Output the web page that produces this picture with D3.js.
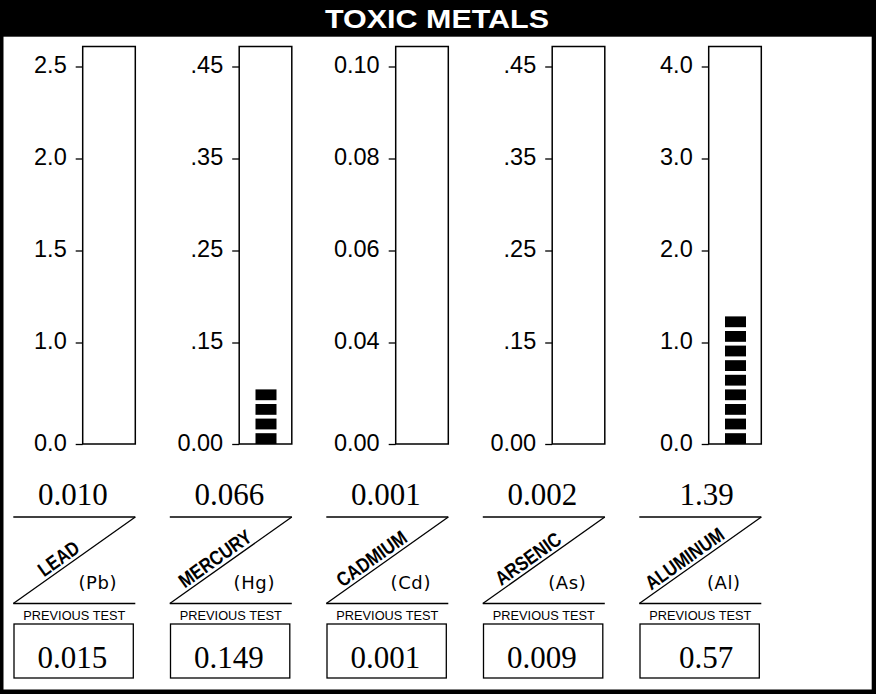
<!DOCTYPE html>
<html>
<head>
<meta charset="utf-8">
<script src="https://cdn.jsdelivr.net/npm/d3@7"></script>
<style>
  html, body { margin: 0; padding: 0; background: #fff; }
  svg { display: block; }
</style>
</head>
<body>
<svg id="chart" width="876" height="694"></svg>
<script>
// ---- data ----
const title = "TOXIC METALS";
const metals = ["LEAD", "MERCURY", "CADMIUM", "ARSENIC", "ALUMINUM"];
const symbols = ["(Pb)", "(Hg)", "(Cd)", "(As)", "(Al)"];
const results = [0.010, 0.066, 0.001, 0.002, 1.39];
const resultLabels = ["0.010", "0.066", "0.001", "0.002", "1.39"];
const previous = ["0.015", "0.149", "0.001", "0.009", "0.57"];
const tickValues = [
  [0, 1.0, 1.5, 2.0, 2.5],
  [0, 0.15, 0.25, 0.35, 0.45],
  [0, 0.04, 0.06, 0.08, 0.10],
  [0, 0.15, 0.25, 0.35, 0.45],
  [0, 1.0, 2.0, 3.0, 4.0]
];
const tickLabels = [
  ["0.0", "1.0", "1.5", "2.0", "2.5"],
  ["0.00", ".15", ".25", ".35", ".45"],
  ["0.00", "0.04", "0.06", "0.08", "0.10"],
  ["0.00", ".15", ".25", ".35", ".45"],
  ["0.0", "1.0", "2.0", "3.0", "4.0"]
];
const previousLabel = "PREVIOUS TEST";

// ---- layout ----
const svg = d3.select("#chart");
const W = 876, H = 694;
const boxW = 52.6, boxTop = 46.5, boxBottom = 444;
const tickRange = [444, 342.5, 250.5, 158.5, 66.5];
const pitch = 14.6, blockH = 10.8, blockW = 21;

const xCol = d3.scalePoint().domain(metals).range([82.7, 708.7]);

// frame
svg.append("rect").attr("x", 0).attr("y", 0).attr("width", W).attr("height", H).attr("fill", "#000");
svg.append("rect").attr("x", 3.5).attr("y", 36.7).attr("width", 868.2).attr("height", 652.8).attr("fill", "#fff");

svg.append("text")
  .attr("x", 437).attr("y", 27.5)
  .attr("text-anchor", "middle")
  .attr("fill", "#fff")
  .attr("font-family", "'Liberation Sans', Arial, sans-serif")
  .attr("font-weight", "bold")
  .attr("font-size", 26.5)
  .attr("textLength", 224)
  .attr("lengthAdjust", "spacingAndGlyphs")
  .text(title);

const angle = Math.atan2(86.5, 122) * 180 / Math.PI;

metals.forEach((m, i) => {
  const x0 = xCol(m);
  const xr = x0 + boxW;
  const g = svg.append("g");

  const y = d3.scaleLinear().domain(tickValues[i]).range(tickRange);
  const yLow = d3.scalePow().exponent(0.7).domain([0, tickValues[i][1]]).range([tickRange[0], tickRange[1]]);
  const yVal = v => v < tickValues[i][1] ? yLow(v) : y(v);

  // box
  g.append("rect")
    .attr("x", x0).attr("y", boxTop)
    .attr("width", boxW).attr("height", boxBottom - boxTop)
    .attr("fill", "#fff").attr("stroke", "#000").attr("stroke-width", 1.5);

  // axis ticks
  const axis = d3.axisLeft(y).tickValues(tickValues[i])
    .tickFormat((d, k) => tickLabels[i][k])
    .tickSize(7).tickPadding(9);
  const ag = g.append("g").attr("transform", `translate(${x0},0)`).call(axis);
  ag.select(".domain").remove();
  ag.selectAll(".tick line").attr("stroke", "#000").attr("stroke-width", 1.3);
  ag.selectAll(".tick text")
    .attr("font-family", "'Liberation Sans', Arial, sans-serif")
    .attr("font-size", 23.5)
    .attr("fill", "#000")
    .attr("dy", "0.26em");

  // segmented bar
  const h = tickRange[0] - yVal(results[i]);
  const blocks = d3.range(0, 40).filter(k => k * pitch + blockH <= h);
  g.selectAll(".blk").data(blocks).join("rect")
    .attr("x", x0 + boxW / 2 - blockW / 2 + 0.5)
    .attr("y", k => boxBottom - k * pitch - blockH)
    .attr("width", blockW).attr("height", blockH)
    .attr("fill", "#000");

  // result value
  g.append("text")
    .attr("x", xr - 27.5).attr("y", 505)
    .attr("text-anchor", "end")
    .attr("font-family", "'Liberation Serif', 'Times New Roman', serif")
    .attr("font-size", 31)
    .text(resultLabels[i]);

  // diagonal panel
  const pl = xr - 122, pt = 517, pb = 603.5;
  const line = (x1, y1, x2, y2) => g.append("line")
    .attr("x1", x1).attr("y1", y1).attr("x2", x2).attr("y2", y2)
    .attr("stroke", "#000").attr("stroke-width", 1.3);
  line(pl, pt, xr, pt);
  line(pl, pb, xr, pb);
  line(pl, pb, xr, pt);

  // rotated name
  const f = 0.42;
  const fx = pl + f * 122, fy = pb - f * 86.5;
  const rad = angle * Math.PI / 180;
  const off = 3.5;
  const tx = fx - Math.sin(rad) * off, ty = fy - Math.cos(rad) * off;
  g.append("text")
    .attr("transform", `translate(${tx},${ty}) rotate(${-angle}) scale(0.84,1)`)
    .attr("text-anchor", "middle")
    .attr("font-family", "'Liberation Sans', Arial, sans-serif")
    .attr("font-weight", "bold")
    .attr("font-size", 20)
    .text(m);

  // symbol
  g.append("text")
    .attr("x", xr - 37.5).attr("y", 589)
    .attr("text-anchor", "middle")
    .attr("font-family", "'DejaVu Sans', sans-serif")
    .attr("font-size", 18)
    .attr("letter-spacing", 0.6)
    .text(symbols[i]);

  // previous test
  g.append("text")
    .attr("x", pl + 61).attr("y", 619.5)
    .attr("text-anchor", "middle")
    .attr("font-family", "'Liberation Sans', Arial, sans-serif")
    .attr("font-size", 13.5)
    .attr("textLength", 102)
    .attr("lengthAdjust", "spacingAndGlyphs")
    .text(previousLabel);

  g.append("rect")
    .attr("x", xr - 121.3).attr("y", 624)
    .attr("width", 119.3).attr("height", 54)
    .attr("fill", "none").attr("stroke", "#000").attr("stroke-width", 1.3);

  g.append("text")
    .attr("x", xr - 28).attr("y", 668)
    .attr("text-anchor", "end")
    .attr("font-family", "'Liberation Serif', 'Times New Roman', serif")
    .attr("font-size", 31)
    .text(previous[i]);
});
</script>
</body>
</html>
